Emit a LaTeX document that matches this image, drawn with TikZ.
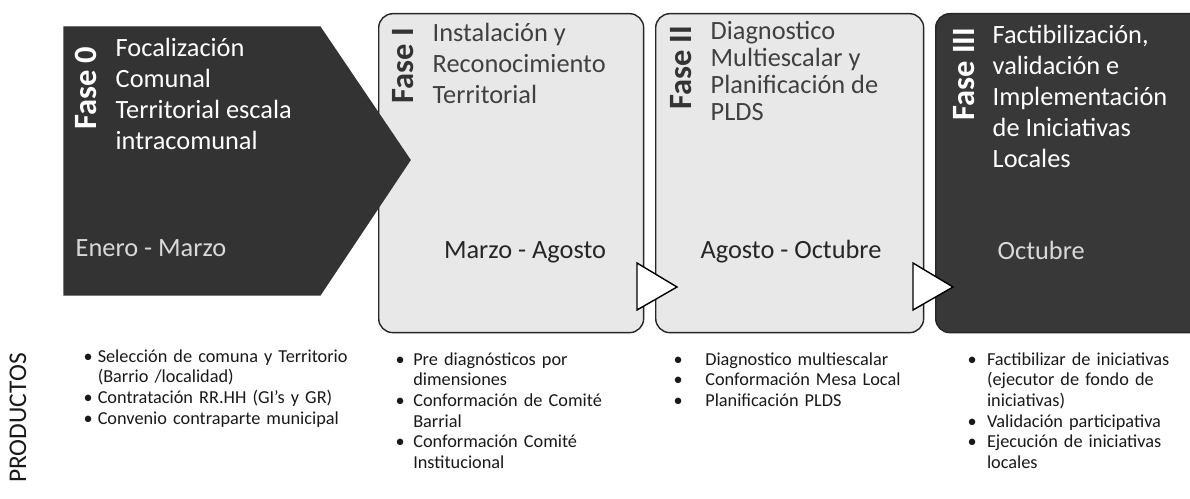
\documentclass[tikz,border=0pt]{standalone}
\usepackage{fontspec}
\setmainfont{Carlito}
\usetikzlibrary{positioning}

\newcommand\vineta[2]{\noindent\hangindent=#1\hangafter=1\makebox[#1][l]{\textbullet}#2\par}

\begin{document}
\begin{tikzpicture}[x=0.02cm, y=-0.02cm, line width=0.8pt,
    fase/.style={draw=black!85, rounded corners=8pt, inner sep=0pt, anchor=north west},
    claro/.style={fase, fill=black!9},
    oscuro/.style={fase, fill=black!78},
    etapa/.style={rotate=90, anchor=east, inner sep=0pt, font=\fontsize{18.5}{20}\selectfont\bfseries},
    titulo/.style={anchor=north west, inner sep=0pt, align=left, font=\fontsize{15}{17.6}\selectfont},
    fecha/.style={inner sep=0pt, font=\fontsize{15}{17.6}\selectfont},
    producto/.style={anchor=north west, inner sep=0pt, text width=6cm, text=black!90, font=\fontsize{10.4}{11.7}\selectfont},
    paso/.style={draw=black, fill=white, line width=0.8pt, line join=miter},
  ]

    \useasboundingbox (0,0) rectangle (1190,499);

    % cajas de las fases
    \node (fase1) at (378,13) [claro, minimum width=5.3cm, minimum height=6.38cm] {};
    \node (fase2) at (655,13) [claro, minimum width=5.36cm, minimum height=6.38cm] {};
    \node (fase3) at (935,13) [oscuro, minimum width=5.4cm, minimum height=6.38cm] {};

    % fase 0
    \filldraw[black!80] (64,27) -- (320,27) -- (410,160) -- (320,295) -- (64,295) -- cycle;

    \draw[paso] (637,263) -- (677,287) -- (637,310) -- cycle;
    \draw[paso] (913,263) -- (953,287) -- (913,310) -- cycle;

    \node (e0) at (86,46)  [etapa, text=white] {Fase 0};
    \node (e1) at (403,27) [etapa, text=black!80] {Fase I};
    \node (e2) at (681,25) [etapa, text=black!80] {Fase II};
    \node (e3) at (964,27) [etapa, text=white] {Fase III};

    \node (t0) at (115,38)  [titulo, text=white] {Focalización\\Comunal\\Territorial escala\\intracomunal};
    \node (t1) at (432,23)  [titulo, text=black!75] {Instalación y\\Reconocimiento\\Territorial};
    \node (t2) at (710,21)  [titulo, text=black!75, font=\fontsize{15}{15.3}\selectfont] {Diagnostico\\Multiescalar y\\Planificación de\\PLDS};
    \node (t3) at (992,25)  [titulo, text=white] {Factibilización,\\validación e\\Implementación\\de Iniciativas\\Locales};

    \node (f0) at (75,248)  [fecha, anchor=west, text=black!15] {Enero - Marzo};
    \node (f1) at (525,252) [fecha, text=black!85] {Marzo - Agosto};
    \node (f2) at (791,252) [fecha, text=black!85] {Agosto - Octubre};
    \node (f3) at (997,250) [fecha, anchor=west, text=black!15] {Octubre};

    % productos
    \node (prod) at (18,418) [rotate=90, inner sep=0pt, text=black!90, font=\fontsize{14.5}{16}\selectfont] {PRODUCTOS};

    \node (p0) at (83,349) [producto] {%
        \vineta{8pt}{Selección de comuna y Territorio\newline (Barrio /localidad)}
        \vineta{8pt}{Contratación RR.HH (GI’s y GR)}
        \vineta{8pt}{Convenio contraparte municipal}};
    \node (p1) at (395,352) [producto] {%
        \vineta{10pt}{Pre diagnósticos por\newline dimensiones}
        \vineta{10pt}{Conformación de Comité\newline Barrial}
        \vineta{10pt}{Conformación Comité\newline Institucional}};
    \node (p2) at (673,352) [producto] {%
        \vineta{18pt}{Diagnostico multiescalar}
        \vineta{18pt}{Conformación Mesa Local}
        \vineta{18pt}{Planificación PLDS}};
    \node (p3) at (967,352) [producto] {%
        \vineta{11pt}{Factibilizar de iniciativas\newline (ejecutor de fondo de\newline iniciativas)}
        \vineta{11pt}{Validación participativa}
        \vineta{11pt}{Ejecución de iniciativas\newline locales}};

\end{tikzpicture}
\end{document}
